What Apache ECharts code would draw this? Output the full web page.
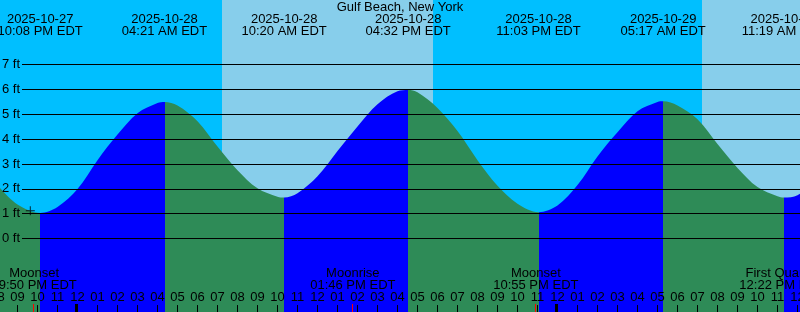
<!DOCTYPE html>
<html><head><meta charset="utf-8">
<script src="https://cdn.jsdelivr.net/npm/echarts@6/dist/echarts.min.js"></script>
<style>html,body{margin:0;padding:0;background:#00BFFF}#c{width:800px;height:312px}</style>
</head><body><div id="c"></div>
<script>
// Times are hours since 2025-10-27 00:00 EDT
const title = 'Gulf Beach, New York';
const tideHours = [20, 21, 22.133, 23, 24, 25, 26, 27, 28, 28.35, 29, 30, 31, 32, 33, 34, 34.333, 35, 36, 37, 38, 39, 40, 40.533, 41, 42, 43, 44, 45, 46, 47.05, 48, 49, 50, 51, 52, 53, 53.283, 54, 55, 56, 57, 58, 59, 59.317, 60, 61];
const tideFeet  = [2.15, 1.37, 1.03, 1.27, 1.99, 3.15, 4.18, 5.04, 5.45, 5.49, 5.35, 4.72, 3.7, 2.75, 2.02, 1.68, 1.65, 1.82, 2.5, 3.52, 4.51, 5.4, 5.92, 5.97, 5.88, 5.25, 4.32, 3.15, 2.12, 1.4, 1.06, 1.33, 2.15, 3.3, 4.27, 5.12, 5.49, 5.52, 5.35, 4.8, 3.8, 2.84, 2.07, 1.7, 1.65, 1.74, 2.35];
const extremeHours = [22.133, 28.35, 34.333, 40.533, 47.05, 53.283, 59.317];
const extremeKinds = ['low', 'high', 'low', 'high', 'low', 'high', 'low'];
const extremeDates = ['2025-10-27', '2025-10-28', '2025-10-28', '2025-10-28', '2025-10-28', '2025-10-29', '2025-10-29'];
const extremeClock = ['10:08 PM EDT', '04:21 AM EDT', '10:20 AM EDT', '04:32 PM EDT', '11:03 PM EDT', '05:17 AM EDT', '11:19 AM EDT'];
const moonHours = [21.833, 37.767, 46.917, 60.367];
const moonEvents = ['Moonset', 'Moonrise', 'Moonset', 'First Quarter'];
const moonClock = ['09:50 PM EDT', '01:46 PM EDT', '10:55 PM EDT', '12:22 PM EDT'];
const dayStart = [31.225, 55.225];
const dayEnd = [41.775, 61];
const midnightHours = [24, 48];
const nowMark = [21.64, 1.12];

const FONT = '13px "Liberation Sans", Arial, sans-serif';
const GREEN = '#2E8B57', BLUE = '#0000FF', NIGHT = '#00BFFF', DAY = '#87CEEB';

const last = extremeHours.length - 1;
const pieces = [{ lt: extremeHours[0], color: extremeKinds[0] === 'low' ? GREEN : BLUE }];
for (let i = 0; i < last; i++) {
  pieces.push({ gte: extremeHours[i], lt: extremeHours[i + 1], color: extremeKinds[i] === 'low' ? BLUE : GREEN });
}
pieces.push({ gte: extremeHours[last], color: extremeKinds[last] === 'low' ? BLUE : GREEN });

const chart = echarts.init(document.getElementById('c'), null, { renderer: 'canvas', width: 800, height: 312 });

const hourFmt = v => { const h = ((v % 24) + 24) % 24; const h12 = h % 12 === 0 ? 12 : h % 12; return String(h12).padStart(2, '0'); };

chart.setOption({
  animation: false,
  backgroundColor: NIGHT,
  graphic: [{ type: 'text', x: 400, y: 7.5, z: 100, style: { text: title, fill: '#000', font: FONT, align: 'center', verticalAlign: 'middle' } }],
  grid: [
    { left: -2.5, top: 238.5 - 24.857 * 10, width: 820, height: 24.857 * 13, containLabel: false, outerBoundsMode: 'none' },
    { left: 22, right: 0, top: 64.5, height: 174, containLabel: false, outerBoundsMode: 'none' }
  ],
  xAxis: [
    { type: 'value', gridIndex: 0, min: 20, max: 61, interval: 1, position: 'bottom', z: 5,
      axisLine: { show: false, onZero: false }, splitLine: { show: false },
      axisTick: { show: true, inside: true, length: 8, lineStyle: { color: '#000', width: 1 } },
      axisLabel: { show: true, inside: true, margin: 9, color: '#000', fontFamily: '"Liberation Sans", Arial, sans-serif', fontSize: 13, formatter: hourFmt, showMinLabel: true, showMaxLabel: true } },
    { type: 'value', gridIndex: 1, min: 0, max: 1, show: false, axisLine: { onZero: false } }
  ],
  yAxis: [
    { type: 'value', gridIndex: 0, min: -3, max: 10, show: false, axisLine: { onZero: false } },
    { type: 'value', gridIndex: 1, min: 0, max: 7, interval: 1, z: 5,
      axisLine: { show: false, onZero: false }, axisTick: { show: false },
      axisLabel: { margin: 2, color: '#000', fontFamily: '"Liberation Sans", Arial, sans-serif', fontSize: 13, formatter: v => v + ' ft' },
      splitLine: { show: true, lineStyle: { color: '#000', width: 1 } } }
  ],
  visualMap: [{ type: 'piecewise', show: false, dimension: 0, seriesIndex: 1, pieces: pieces }],
  series: [
    { type: 'custom', xAxisIndex: 0, yAxisIndex: 0, z: 1, silent: true,
      data: dayStart.map((s, i) => [s, dayEnd[i]]),
      renderItem: (params, api) => {
        const x0 = api.coord([api.value(0), 0])[0];
        const x1 = api.coord([api.value(1), 0])[0];
        return { type: 'rect', shape: { x: x0, y: 0, width: x1 - x0, height: 312 }, style: { fill: DAY } };
      } },
    { type: 'line', xAxisIndex: 0, yAxisIndex: 0, z: 2, silent: true, smooth: 0.33, showSymbol: false,
      data: tideHours.map((h, i) => [h, tideFeet[i]]),
      lineStyle: { width: 0 }, areaStyle: { opacity: 1, origin: 'start' } },
    { type: 'line', xAxisIndex: 1, yAxisIndex: 1, data: [] },
    { type: 'custom', xAxisIndex: 0, yAxisIndex: 0, z: 7, silent: true,
      data: midnightHours.map(h => [h, 0]),
      renderItem: (params, api) => {
        const x = api.coord([api.value(0), 0])[0];
        return { type: 'rect', shape: { x: x - 2.5, y: 304, width: 3, height: 9 }, style: { fill: '#000' } };
      } },
    { type: 'custom', xAxisIndex: 0, yAxisIndex: 0, z: 7, silent: true,
      data: moonHours.map(h => [h, 0]),
      renderItem: (params, api) => {
        const x = Math.floor(api.coord([api.value(0), 0])[0] - 0.5);
        return { type: 'rect', shape: { x: x, y: 304, width: 1, height: 9 }, style: { fill: '#FF0000' } };
      } },
    { type: 'custom', xAxisIndex: 0, yAxisIndex: 0, z: 8, silent: true,
      data: extremeHours.map(h => [h, 0]),
      renderItem: (params, api) => {
        const x = api.coord([api.value(0), 0])[0];
        const i = params.dataIndex;
        return { type: 'group', children: [
          { type: 'text', x: x, y: 19.5, style: { text: extremeDates[i], fill: '#000', font: FONT, align: 'center', verticalAlign: 'middle' } },
          { type: 'text', x: x, y: 31.5, style: { text: extremeClock[i], fill: '#000', font: FONT, align: 'center', verticalAlign: 'middle' } }
        ] };
      } },
    { type: 'custom', xAxisIndex: 0, yAxisIndex: 0, z: 8, silent: true,
      data: moonHours.map(h => [h, 0]),
      renderItem: (params, api) => {
        // labels whose event lies past the right edge are pulled back in
        const x = Math.min(api.coord([api.value(0), 0])[0], api.getWidth() - 18);
        const i = params.dataIndex;
        return { type: 'group', children: [
          { type: 'text', x: x, y: 273, style: { text: moonEvents[i], fill: '#000', font: FONT, align: 'center', verticalAlign: 'middle' } },
          { type: 'text', x: x, y: 285.5, style: { text: moonClock[i], fill: '#000', font: FONT, align: 'center', verticalAlign: 'middle' } }
        ] };
      } },
    { type: 'scatter', xAxisIndex: 0, yAxisIndex: 0, z: 8, silent: true,
      data: [nowMark], symbol: 'path://M0,4H9V5H0ZM4,0H5V9H4Z', symbolSize: 9,
      itemStyle: { color: '#000' } }
  ]
});
</script></body></html>
